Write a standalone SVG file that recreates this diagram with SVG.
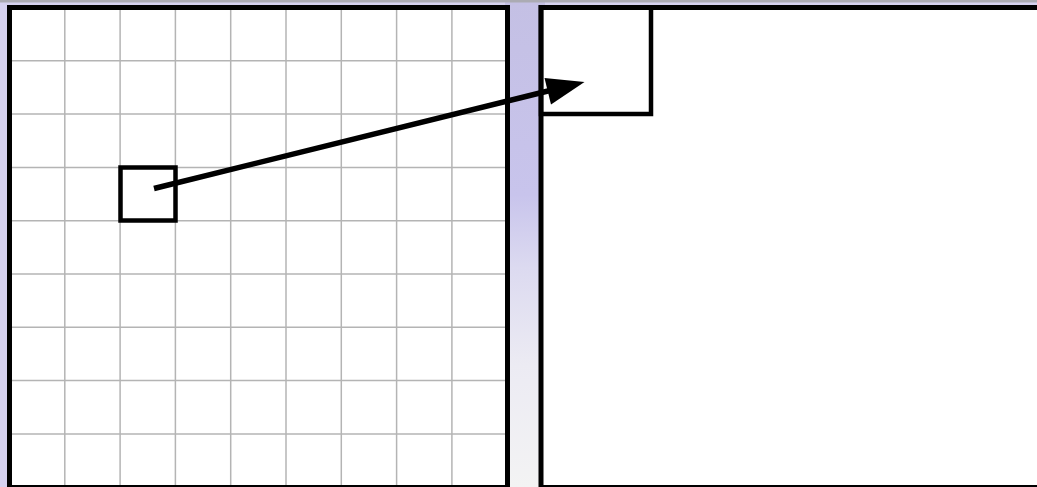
<svg xmlns="http://www.w3.org/2000/svg" width="1037" height="487" viewBox="0 0 1037 487">
<defs>
<linearGradient id="gap" x1="0" y1="0" x2="0" y2="1">
<stop offset="0" stop-color="#c4c0e4"/>
<stop offset="0.4" stop-color="#c8c4ec"/>
<stop offset="0.55" stop-color="#dcdaf0"/>
<stop offset="0.75" stop-color="#ecebf3"/>
<stop offset="1" stop-color="#f3f3f3"/>
</linearGradient>
<style>
.panel{fill:#fff;stroke:#000;stroke-width:5}
.frame{fill:none;stroke:#000;stroke-width:5}
.box{fill:none;stroke:#000;stroke-width:4.5}
.grid line{stroke:#b4b4b4;stroke-width:1.5}
.arrow-line{stroke:#000;stroke-width:5.5;fill:none}
.arrow-head{fill:#000}
</style>
</defs>
<rect width="1037" height="487" fill="#d6d2f0"/>
<rect x="505" y="0" width="40" height="487" fill="url(#gap)"/>
<rect width="1037" height="2.5" fill="#ababb3"/>
<g id="left-panel">
<rect class="panel" x="9.5" y="7.5" width="498" height="480"/>
<g class="grid">
<line x1="64.8" y1="10" x2="64.8" y2="487"/>
<line x1="120.1" y1="10" x2="120.1" y2="487"/>
<line x1="175.4" y1="10" x2="175.4" y2="487"/>
<line x1="230.7" y1="10" x2="230.7" y2="487"/>
<line x1="286" y1="10" x2="286" y2="487"/>
<line x1="341.3" y1="10" x2="341.3" y2="487"/>
<line x1="396.6" y1="10" x2="396.6" y2="487"/>
<line x1="451.9" y1="10" x2="451.9" y2="487"/>
<line x1="10" y1="60.8" x2="507" y2="60.8"/>
<line x1="10" y1="114.1" x2="507" y2="114.1"/>
<line x1="10" y1="167.4" x2="507" y2="167.4"/>
<line x1="10" y1="220.7" x2="507" y2="220.7"/>
<line x1="10" y1="274" x2="507" y2="274"/>
<line x1="10" y1="327.3" x2="507" y2="327.3"/>
<line x1="10" y1="380.6" x2="507" y2="380.6"/>
<line x1="10" y1="433.9" x2="507" y2="433.9"/>
</g>
<rect class="frame" x="9.5" y="7.5" width="498" height="480"/>
</g>
<g id="source-cell">
<rect class="box" x="120.5" y="167.5" width="55" height="53"/>
</g>
<g id="right-panel">
<rect class="panel" x="541" y="7.5" width="520" height="480"/>
</g>
<g id="target-block">
<rect class="box" x="541" y="7.5" width="110" height="106.5"/>
</g>
<g id="connectors">
<line class="arrow-line" x1="154" y1="188.5" x2="552" y2="90"/>
<polygon class="arrow-head" points="584.5,82 544.5,78 551,104.5"/>
</g>
</svg>
